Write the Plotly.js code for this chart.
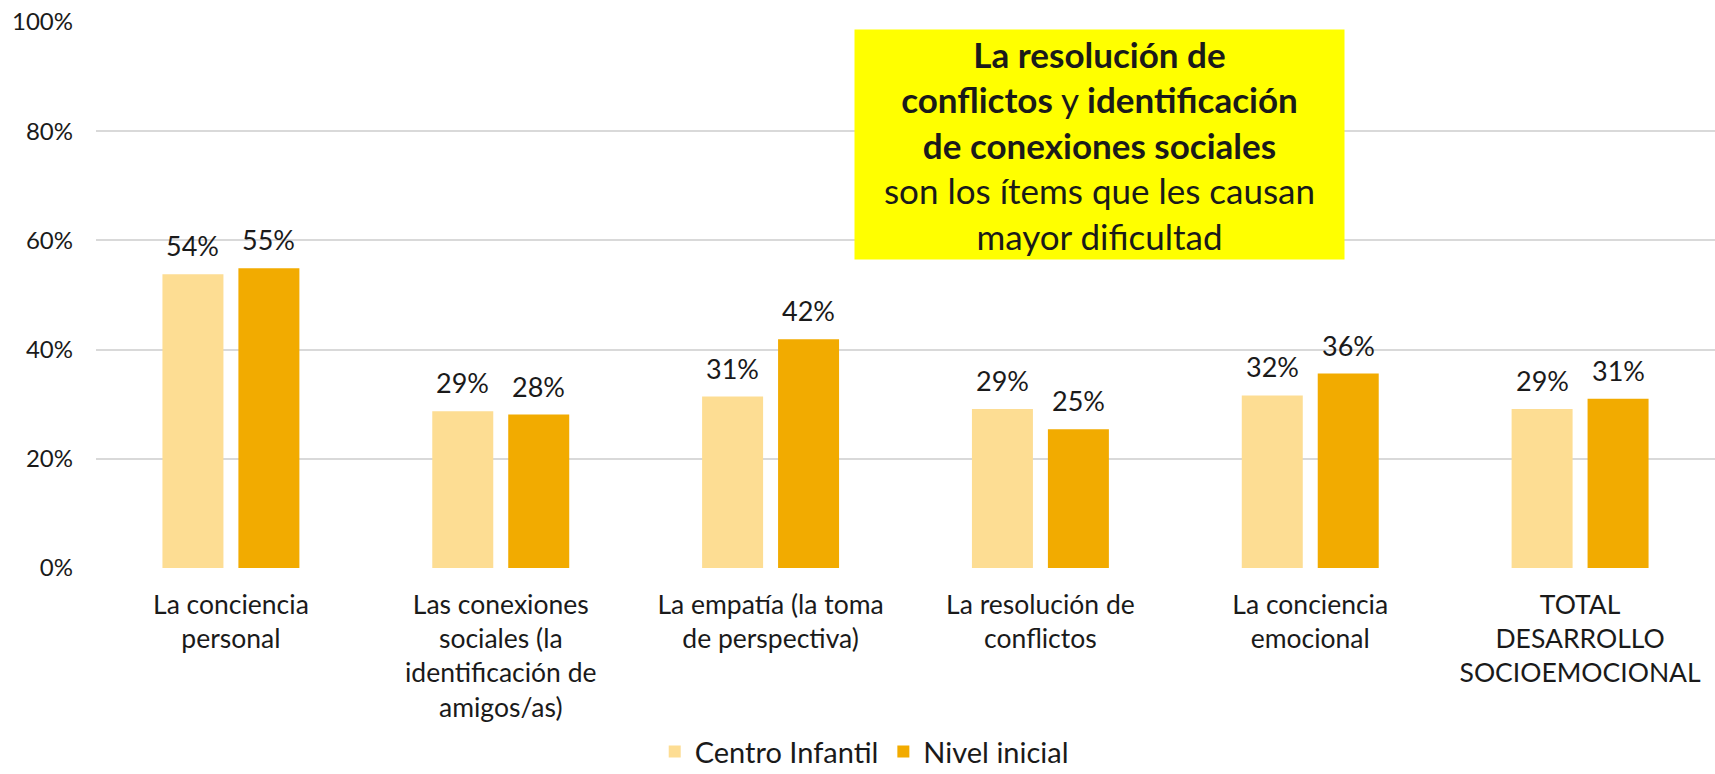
<!DOCTYPE html>
<html>
<head>
<meta charset="utf-8">
<script src="https://cdn.plot.ly/plotly-3.0.1.min.js"></script>
<style>html,body{margin:0;padding:0;background:#fff;}#chart{width:1715px;height:774px;}</style>
</head>
<body>
<div id="chart"></div>
<script>
const categories = [
  "La conciencia<br>personal",
  "Las conexiones<br>sociales (la<br>identificación de<br>amigos/as)",
  "La empatía (la toma<br>de perspectiva)",
  "La resolución de<br>conflictos",
  "La conciencia<br>emocional",
  "TOTAL<br>DESARROLLO<br>SOCIOEMOCIONAL"
];
const seriesNames = ["Centro Infantil", "Nivel inicial"];
const centroInfantil = [0.538, 0.287, 0.314, 0.291, 0.316, 0.291];
const nivelInicial = [0.549, 0.281, 0.419, 0.254, 0.356, 0.310];
const yTickVals = [0, 0.2, 0.4, 0.6, 0.8, 1.0];
const yTickText = ["0%", "20%", "40%", "60%", "80%", "100%"];
const calloutLines = [
  "<b>La resolución de</b>",
  "<b>conflictos</b> y <b>identificación</b>",
  "<b>de conexiones sociales</b>",
  "son los ítems que les causan",
  "mayor dificultad"
];

const colors = ["#FDDD93", "#F2AB00"];
const FONT = "Lato, 'Open Sans', sans-serif";
const TXT = "#1a1a1a";

const traces = [centroInfantil, nivelInicial].map((vals, i) => ({
  type: "bar",
  name: seriesNames[i],
  x: categories,
  y: vals,
  marker: { color: colors[i] },
  hoverinfo: "skip"
}));

const annotations = [];
[centroInfantil, nivelInicial].forEach((vals, i) => {
  vals.forEach((v, j) => {
    annotations.push({
      x: categories[j], y: v, xref: "x", yref: "y",
      text: Math.round(v * 100) + "%",
      showarrow: false, yanchor: "bottom",
      xshift: i === 0 ? -38 : 38, yshift: 10,
      font: { family: FONT, size: 27, color: TXT }
    });
  });
});
annotations.push({
  xref: "paper", yref: "paper",
  x: (1099 - 96) / 1619, y: 1 - (144 - 22) / 546,
  xanchor: "center", yanchor: "middle",
  text: calloutLines.join("<br>"),
  showarrow: false,
  bgcolor: "#FFFF00",
  width: 487, height: 227,
  font: { family: FONT, size: 35, color: TXT }
});

const layout = {
  width: 1715, height: 774,
  margin: { l: 96, r: 0, t: 22, b: 206, autoexpand: false },
  paper_bgcolor: "#fff", plot_bgcolor: "#fff",
  barmode: "group",
  bargap: 0.437,
  bargroupgap: 0.197,
  font: { family: FONT, color: TXT },
  xaxis: {
    tickfont: { family: FONT, size: 26.5, color: TXT },
    showgrid: false, zeroline: false, showline: false,
    ticks: "", automargin: false,
    ticklabelstandoff: 18
  },
  yaxis: {
    range: [0, 1],
    tickvals: yTickVals, ticktext: yTickText,
    tickfont: { family: FONT, size: 24, color: TXT },
    showgrid: true, gridcolor: "#D9D9D9", gridwidth: 2,
    zeroline: false, showline: false, ticks: "",
    ticklabelstandoff: 22,
    automargin: false
  },
  legend: {
    orientation: "h", x: 0.4745, xanchor: "center",
    y: -0.383, yanchor: "bottom",
    font: { family: FONT, size: 29, color: TXT },
    itemwidth: 30
  },
  annotations: annotations,
  showlegend: true
};

Plotly.newPlot("chart", traces, layout, { displayModeBar: false, staticPlot: true });
</script>
</body>
</html>
